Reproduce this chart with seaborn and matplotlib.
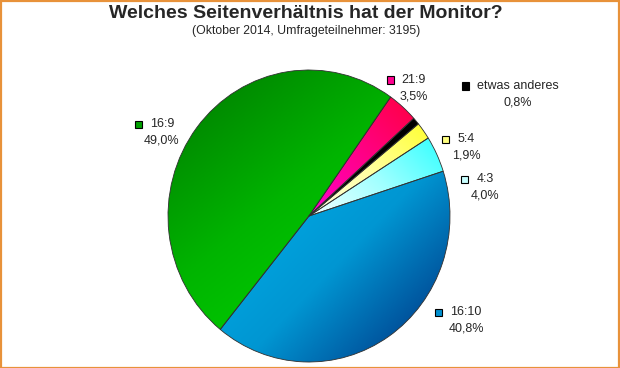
import numpy as np
import seaborn as sns
import matplotlib.pyplot as plt
from matplotlib.colors import LinearSegmentedColormap
from matplotlib.patches import Rectangle

# data (counter-clockwise, starting at the 16:10 slice)
categories = ["16:10", "4:3", "5:4", "etwas anderes", "21:9", "16:9"]
values = [40.8, 4.0, 1.9, 0.8, 3.5, 49.0]

# gradient colours per slice: (start, mid, end, direction)
grad_start = ["#00b0ea", "#f4ffff", "#ffffe8", "#000000", "#ff00cc", "#007800"]
grad_mid = ["#0096d2", "#a0ffff", "#ffffa0", "#000000", "#ff0088", "#00b400"]
grad_end = ["#002a7c", "#30ffff", "#ffff30", "#000000", "#ff0040", "#00d800"]
grad_dir = [(1, -1), (1, 1), (1, 1), (1, 1), (1, 1), (1, -1.3)]
key_colors = ["#0090d0", "#c8ffff", "#ffff80", "#000000", "#ff0090", "#00a000"]

# label anchors in pixels (centre x, first line y)
label_pos = [(466, 312), (485, 179), (466, 139), (518, 86), (414, 80), (162, 124)]

sns.set_theme(style="white")
plt.rcParams["font.family"] = ["Liberation Sans", "DejaVu Sans"]

W, H = 620, 368
fig = plt.figure(figsize=(W / 100, H / 100), dpi=100)
fig.patch.set_facecolor("white")

# pie axes (slightly taller than wide, as in the original)
cx, cy, rx, ry = 309, 216, 141, 146
ax = fig.add_axes([(cx - rx) / W, 1 - (cy + ry) / H, 2 * rx / W, 2 * ry / H])
wedges, _ = ax.pie(values, startangle=231, counterclock=True, radius=1,
                   wedgeprops=dict(edgecolor="#303030", linewidth=0.6, facecolor="none"))
ax.set_aspect("auto")
ax.axis("off")

# gradient fill clipped to each wedge
for w, c0, cm, c1, d in zip(wedges, grad_start, grad_mid, grad_end, grad_dir):
    bb = w.get_path().get_extents()
    xs = np.linspace(bb.x0, bb.x1, 200)
    ys = np.linspace(bb.y0, bb.y1, 200)
    X, Y = np.meshgrid(xs, ys)
    proj = X * d[0] + Y * d[1]
    t = (proj - proj.min()) / max(proj.max() - proj.min(), 1e-9)
    cmap = LinearSegmentedColormap.from_list("g", [(0, c0), (0.5, cm), (1, c1)])
    im = ax.imshow(t, cmap=cmap, extent=[bb.x0, bb.x1, bb.y0, bb.y1],
                   origin="lower", aspect="auto", zorder=0.5)
    im.set_clip_path(w)
ax.set_xlim(-1, 1)
ax.set_ylim(-1, 1)

# titles
fig.text(306 / W, 1 - 14 / H, "Welches Seitenverhältnis hat der Monitor?",
         ha="center", va="center", fontsize=14, fontweight="bold")
fig.text(306 / W, 1 - 31 / H, "(Oktober 2014, Umfrageteilnehmer: 3195)",
         ha="center", va="center", fontsize=8.8)

# labels with colour keys
renderer = fig.canvas.get_renderer()
for name, v, kc, (px, py) in zip(categories, values, key_colors, label_pos):
    t1 = fig.text(px / W, 1 - py / H, name, ha="center", va="center", fontsize=9)
    fig.text(px / W, 1 - (py + 16.5) / H, f"{v:.1f}".replace(".", ",") + "%",
             ha="center", va="center", fontsize=9)
    ext = t1.get_window_extent(renderer)
    sq = 7
    fig.patches.append(Rectangle(((ext.x0 - 8 - sq) / W, 1 - (py + sq / 2) / H),
                                 sq / W, sq / H, transform=fig.transFigure,
                                 facecolor=kc, edgecolor="black", linewidth=0.8))

# orange frame
fig.patches.append(Rectangle((0.5 / W, 0.5 / H), 1 - 1.5 / W, 1 - 1.5 / H,
                             transform=fig.transFigure, fill=False,
                             edgecolor="#e8923a", linewidth=1.6))

fig.savefig("out.png", dpi=100)
